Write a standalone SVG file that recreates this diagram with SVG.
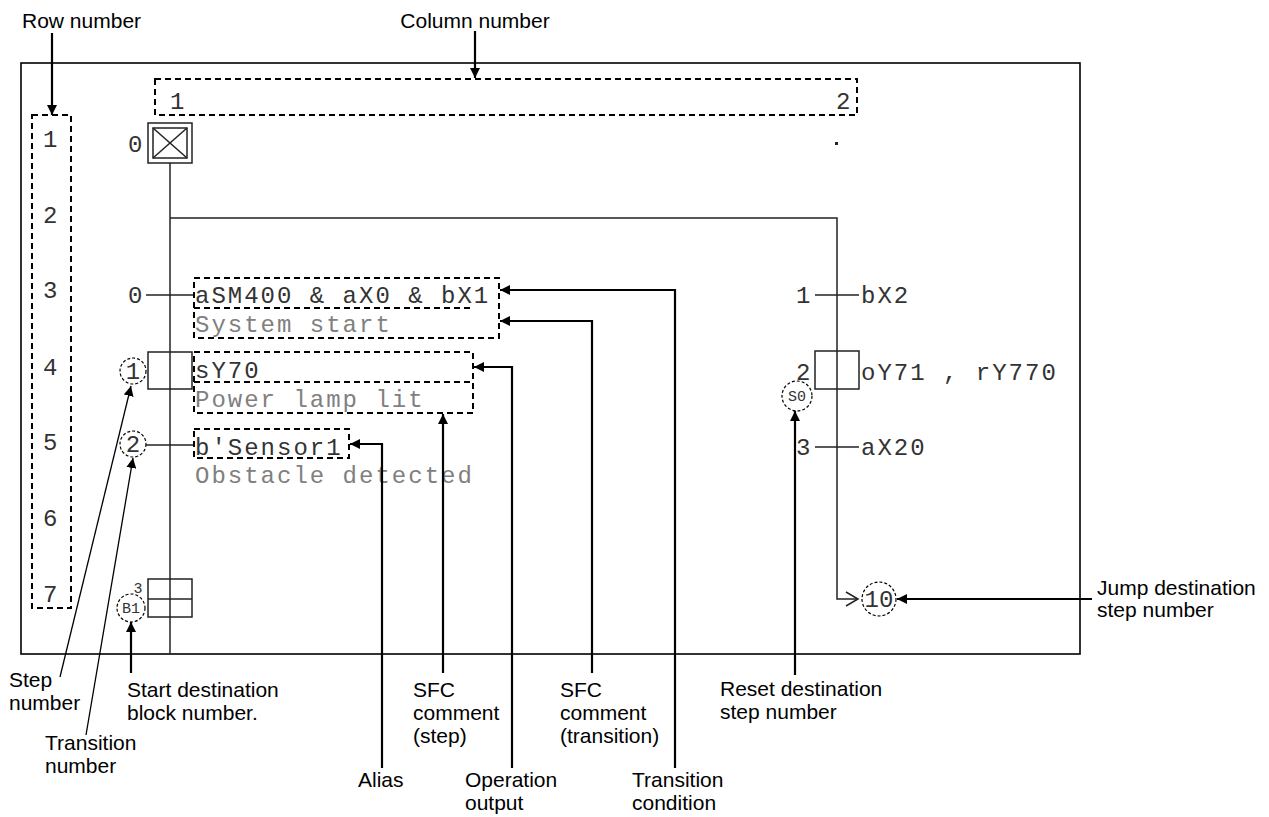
<svg xmlns="http://www.w3.org/2000/svg" width="1269" height="817" viewBox="0 0 1269 817">
<defs>
<style>
.lbl{font-family:"Liberation Sans",Arial,sans-serif;font-size:21px;fill:#000}
.mono{font-family:"Liberation Mono","Courier New",monospace;font-size:24px;letter-spacing:2px;fill:#333}
.cmt{fill:#808080}
.sm{font-family:"Liberation Mono","Courier New",monospace;font-size:15px;fill:#333}
.ln{stroke:#222;stroke-width:1.5;fill:none}
.dbox{stroke:#000;stroke-width:2;stroke-dasharray:6 4;fill:none}
.dcirc{stroke:#000;stroke-width:1.2;stroke-dasharray:3 2;fill:none}
.call{stroke:#000;stroke-width:2.2;fill:none}
.callt{stroke:#000;stroke-width:1.3;fill:none}
</style>
<marker id="ah" viewBox="0 0 10 10" refX="10" refY="5" markerWidth="10" markerHeight="10" markerUnits="userSpaceOnUse" orient="auto">
<path d="M0,0 L10,5 L0,10 z" fill="#000"/>
</marker>
</defs>
<rect width="1269" height="817" fill="#fff"/>

<!-- frame -->
<rect id="frame" x="21" y="63" width="1059" height="591" fill="none" stroke="#000" stroke-width="1.6"/>

<!-- column numbers -->
<g id="colnum">
<rect class="dbox" x="155" y="79" width="702" height="36"/>
<text class="mono" x="170" y="109">1</text>
<text class="mono" x="836" y="109">2</text>
</g>

<!-- row numbers -->
<g id="rownum">
<rect class="dbox" x="32" y="115" width="39" height="493"/>
<text class="mono" x="43" y="147">1</text>
<text class="mono" x="43" y="223">2</text>
<text class="mono" x="43" y="298">3</text>
<text class="mono" x="43" y="375">4</text>
<text class="mono" x="43" y="450">5</text>
<text class="mono" x="43" y="526">6</text>
<text class="mono" x="43" y="602">7</text>
</g>

<!-- SFC lines -->
<g id="sfc-lines">
<line class="ln" x1="170" y1="163" x2="170" y2="654"/>
<polyline class="ln" points="170,218 837,218 837,599 858,599"/>
<polyline class="ln" points="846,592 858,599 846,606"/>
<rect x="835" y="142" width="3" height="3" fill="#222"/>
</g>

<!-- step 0 -->
<g id="step0">
<rect class="ln" x="148" y="123" width="44" height="40" stroke-width="1.8"/>
<rect class="ln" x="153" y="128" width="34" height="30"/>
<line class="ln" x1="153" y1="128" x2="187" y2="158"/>
<line class="ln" x1="187" y1="128" x2="153" y2="158"/>
<text class="mono" x="128" y="152">0</text>
</g>

<!-- transition 0 -->
<g id="trans0">
<line class="ln" x1="146" y1="295" x2="194" y2="295"/>
<text class="mono" x="128" y="303">0</text>
<text class="mono" x="195" y="303">aSM400 &amp; aX0 &amp; bX1</text>
<text class="mono cmt" x="195" y="332">System start</text>
<rect class="dbox" x="194" y="278" width="305" height="60"/>
<line class="dbox" x1="194" y1="308" x2="473" y2="308"/>
</g>

<!-- step 1 -->
<g id="step1">
<rect class="ln" x="148" y="352" width="44" height="37"/>
<circle class="dcirc" cx="133" cy="371" r="13"/>
<text class="mono" x="133" y="379" text-anchor="middle" style="letter-spacing:0">1</text>
<text class="mono" x="195" y="378">sY70</text>
<text class="mono cmt" x="195" y="407">Power lamp lit</text>
<rect class="dbox" x="194" y="352" width="279" height="61"/>
<line class="dbox" x1="194" y1="382" x2="473" y2="382"/>
</g>

<!-- transition 2 -->
<g id="trans2">
<circle class="dcirc" cx="133" cy="444" r="13"/>
<text class="mono" x="133" y="452" text-anchor="middle" style="letter-spacing:0">2</text>
<line class="ln" x1="146" y1="445" x2="194" y2="445"/>
<text class="mono" x="195" y="455">b'Sensor1</text>
<rect class="dbox" x="194" y="429" width="155" height="29"/>
<text class="mono cmt" x="195" y="483">Obstacle detected</text>
</g>

<!-- step 3 -->
<g id="step3">
<rect class="ln" x="148" y="579" width="44" height="38" fill="#fff"/>
<line class="ln" x1="148" y1="599" x2="192" y2="599"/>
<text class="sm" x="138" y="593" text-anchor="middle">3</text>
<circle class="dcirc" cx="131" cy="608" r="14"/>
<text class="sm" x="131" y="613" text-anchor="middle">B1</text>
</g>

<!-- transition 1 -->
<g id="trans1">
<line class="ln" x1="815" y1="295" x2="859" y2="295"/>
<text class="mono" x="796" y="303">1</text>
<text class="mono" x="861" y="303">bX2</text>
</g>

<!-- step 2 -->
<g id="step2">
<rect class="ln" x="815" y="351" width="44" height="38" fill="#fff"/>
<text class="mono" x="796" y="380">2</text>
<circle class="dcirc" cx="797" cy="396" r="15"/>
<text class="sm" x="797" y="401" text-anchor="middle">S0</text>
<text class="mono" x="861" y="380">oY71 , rY770</text>
</g>

<!-- transition 3 -->
<g id="trans3">
<line class="ln" x1="815" y1="447" x2="859" y2="447"/>
<text class="mono" x="796" y="455">3</text>
<text class="mono" x="861" y="455">aX20</text>
</g>

<!-- jump -->
<g id="jump10">
<circle class="dcirc" cx="879" cy="599" r="17"/>
<text class="mono" x="879" y="607" text-anchor="middle" style="letter-spacing:0">10</text>
</g>

<!-- callout connectors -->
<g id="connectors">
<line class="call" x1="52" y1="33" x2="52" y2="115" marker-end="url(#ah)"/>
<line class="call" x1="475" y1="31" x2="475" y2="78" marker-end="url(#ah)"/>
<line class="callt" x1="60" y1="677" x2="131" y2="386" marker-end="url(#ah)"/>
<line class="callt" x1="86" y1="735" x2="133" y2="458" marker-end="url(#ah)"/>
<line class="call" x1="131" y1="673" x2="131" y2="622" marker-end="url(#ah)"/>
<polyline class="call" points="382,768 382,444 350,444" marker-end="url(#ah)"/>
<line class="call" x1="443" y1="673" x2="443" y2="414" marker-end="url(#ah)"/>
<polyline class="call" points="512,768 512,367 474,367" marker-end="url(#ah)"/>
<polyline class="call" points="592,673 592,321 500,321" marker-end="url(#ah)"/>
<polyline class="call" points="675,768 675,290 500,290" marker-end="url(#ah)"/>
<line class="call" x1="795" y1="675" x2="795" y2="411" marker-end="url(#ah)"/>
<line class="call" x1="1092" y1="599" x2="897" y2="599" marker-end="url(#ah)"/>
</g>

<!-- labels -->
<g id="labels">
<text class="lbl" x="22" y="28">Row number</text>
<text class="lbl" x="475" y="28" text-anchor="middle">Column number</text>
<text class="lbl" x="9" y="687">Step</text>
<text class="lbl" x="9" y="710">number</text>
<text class="lbl" x="45" y="750">Transition</text>
<text class="lbl" x="45" y="773">number</text>
<text class="lbl" x="127" y="697">Start destination</text>
<text class="lbl" x="127" y="720">block number.</text>
<text class="lbl" x="358" y="787">Alias</text>
<text class="lbl" x="413" y="697">SFC</text>
<text class="lbl" x="413" y="720">comment</text>
<text class="lbl" x="413" y="743">(step)</text>
<text class="lbl" x="465" y="787">Operation</text>
<text class="lbl" x="465" y="810">output</text>
<text class="lbl" x="560" y="697">SFC</text>
<text class="lbl" x="560" y="720">comment</text>
<text class="lbl" x="560" y="743">(transition)</text>
<text class="lbl" x="632" y="787">Transition</text>
<text class="lbl" x="632" y="810">condition</text>
<text class="lbl" x="720" y="696">Reset destination</text>
<text class="lbl" x="720" y="719">step number</text>
<text class="lbl" x="1097" y="595">Jump destination</text>
<text class="lbl" x="1097" y="617">step number</text>
</g>
</svg>
